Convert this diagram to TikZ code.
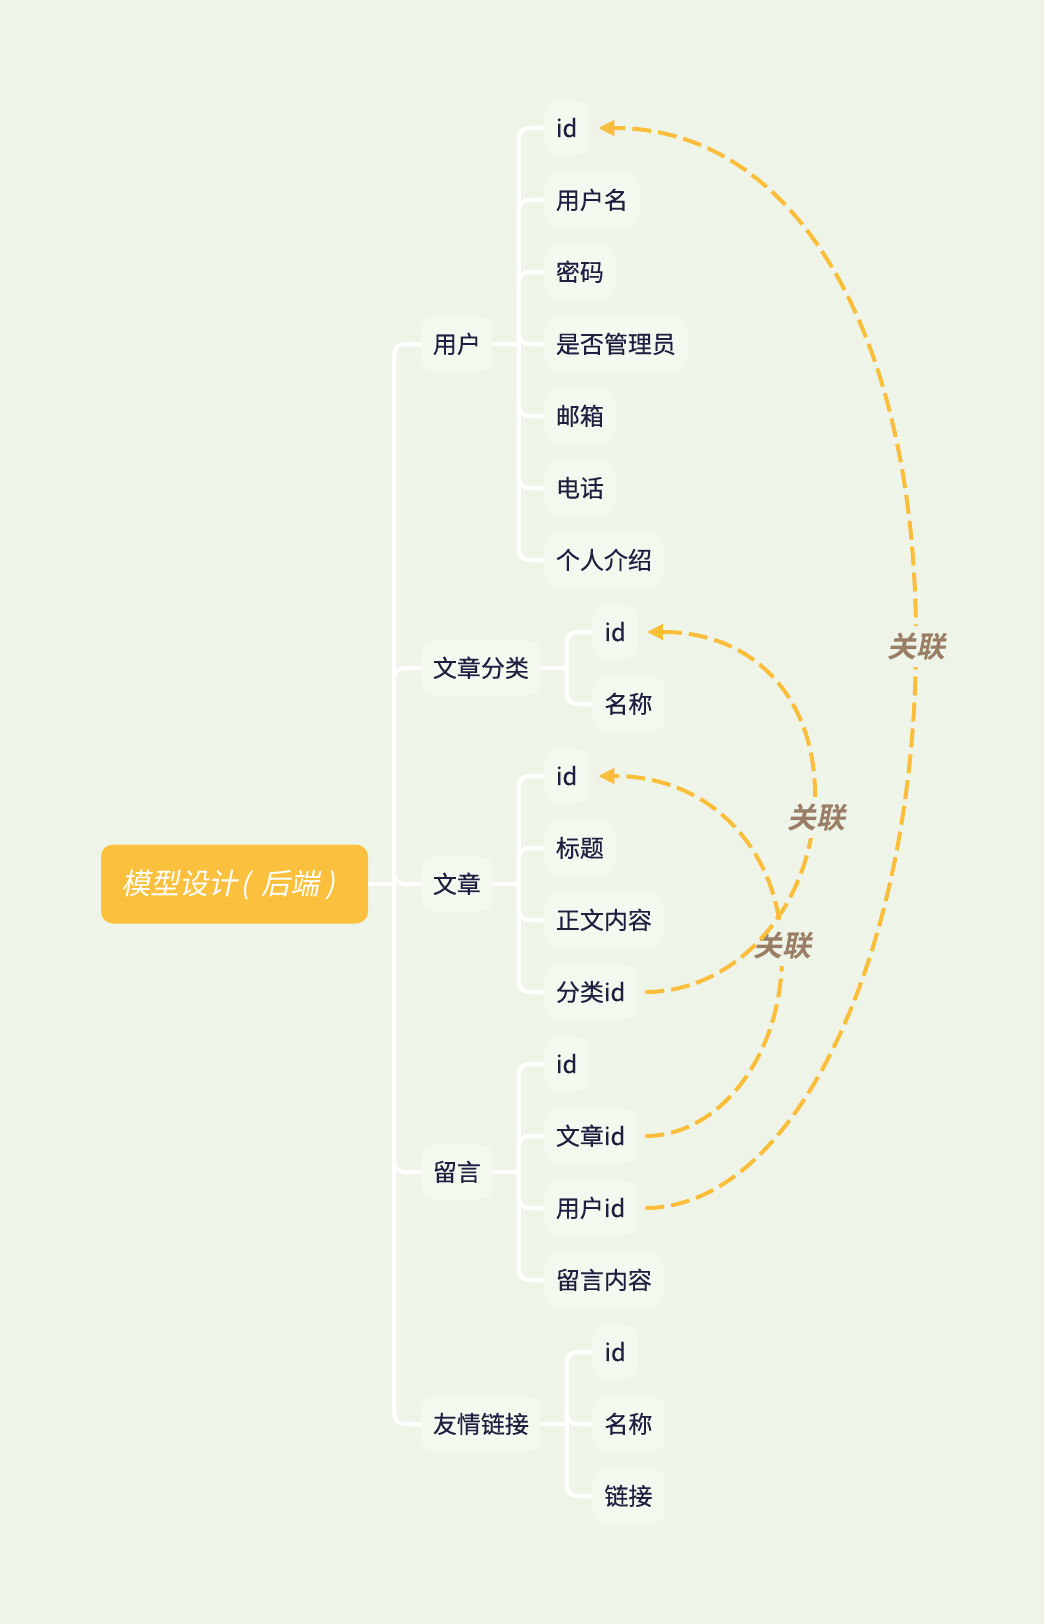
\documentclass[tikz,border=0pt]{standalone}
\usepackage{fontspec}
\setmainfont{Noto Sans CJK SC}[FakeBold=0.3]
\newfontfamily\rootfont[FakeSlant=0.2]{Noto Sans CJK SC}
\newfontfamily\lblfont[FakeSlant=0.2]{Noto Sans CJK SC Bold}
\usetikzlibrary{arrows.meta}
\definecolor{bgc}{HTML}{EEF5E8}
\definecolor{nodec}{HTML}{F4F9F0}
\definecolor{txtc}{HTML}{1F1F40}
\definecolor{rootc}{HTML}{FBC13E}
\definecolor{arrc}{HTML}{FBBD3A}
\definecolor{lblc}{HTML}{9A7D65}
\tikzset{
  leaf/.style={fill=nodec, rounded corners=12pt, minimum height=55pt, inner xsep=11.7pt, inner ysep=0pt,
    text height=20pt, text depth=2pt, font=\fontsize{24}{28}\selectfont, text=txtc, anchor=west},
  rootbox/.style={fill=rootc, rounded corners=12pt, minimum width=267pt, minimum height=79pt, inner sep=0pt,
    text height=23pt, text depth=2pt, font=\rootfont\fontsize{29}{33}\selectfont, text=white},
  branch/.style={draw=white, line width=4pt, rounded corners=10pt},
  rel/.style={draw=arrc, line width=4pt, dash pattern=on 19pt off 7pt, -{Triangle[length=16pt,width=15pt]}},
  lbl/.style={fill=bgc, inner xsep=3pt, inner ysep=8pt, text height=23pt, text depth=2pt,
    font=\lblfont\fontsize{29}{32}\selectfont, text=lblc}
}
\begin{document}
\begin{tikzpicture}[x=1pt, y=-1pt]
\fill[bgc] (0,0) rectangle (1044,1624);
\useasboundingbox (0,0) rectangle (1044,1624);

\node[rootbox] (root) at (234.5,884) {模型设计\kern3pt(\kern11pt后端\kern6pt)\kern12pt};

\node[leaf] (u) at (421,344) {用户};
\node[leaf] (uc0) at (544,128) {id};
\node[leaf] (uc1) at (544,200) {用户名};
\node[leaf] (uc2) at (544,272) {密码};
\node[leaf] (uc3) at (544,344) {是否管理员};
\node[leaf] (uc4) at (544,416) {邮箱};
\node[leaf] (uc5) at (544,488) {电话};
\node[leaf] (uc6) at (544,560) {个人介绍};

\node[leaf] (c) at (421,668) {文章分类};
\node[leaf] (cc0) at (592.5,632) {id};
\node[leaf] (cc1) at (592.5,704) {名称};

\node[leaf] (a) at (421,884) {文章};
\node[leaf] (ac0) at (544,776) {id};
\node[leaf] (ac1) at (544,848) {标题};
\node[leaf] (ac2) at (544,920) {正文内容};
\node[leaf] (ac3) at (544,992) {分类id};

\node[leaf] (m) at (421,1172) {留言};
\node[leaf] (mc0) at (544,1064) {id};
\node[leaf] (mc1) at (544,1136) {文章id};
\node[leaf] (mc2) at (544,1208) {用户id};
\node[leaf] (mc3) at (544,1280) {留言内容};

\node[leaf] (f) at (421,1424) {友情链接};
\node[leaf] (fc0) at (592.5,1352) {id};
\node[leaf] (fc1) at (592.5,1424) {名称};
\node[leaf] (fc2) at (592.5,1496) {链接};

% branches
\draw[branch] (root.east) -- ++(26,0) coordinate (rj);
\foreach \n in {u,c,a,m,f} \draw[branch] (rj) |- (\n.west);
\draw[branch] (u.east) -- ++(26,0) coordinate (uj);
\foreach \n in {uc0,uc1,uc2,uc3,uc4,uc5,uc6} \draw[branch] (uj) |- (\n.west);
\draw[branch] (c.east) -- ++(26,0) coordinate (cj);
\foreach \n in {cc0,cc1} \draw[branch] (cj) |- (\n.west);
\draw[branch] (a.east) -- ++(26,0) coordinate (aj);
\foreach \n in {ac0,ac1,ac2,ac3} \draw[branch] (aj) |- (\n.west);
\draw[branch] (m.east) -- ++(26,0) coordinate (mj);
\foreach \n in {mc0,mc1,mc2,mc3} \draw[branch] (mj) |- (\n.west);
\draw[branch] (f.east) -- ++(26,0) coordinate (fj);
\foreach \n in {fc0,fc1,fc2} \draw[branch] (fj) |- (\n.west);

% relation 1: 用户id -> 用户 id
\coordinate (m1) at (916,640);
\draw[rel] ([xshift=8pt]mc2.east) .. controls (794,1208) and (916,954) .. (m1)
  .. controls (916,333) and (795,128) .. ([xshift=25pt]uc0.east) -- ([xshift=9pt]uc0.east);
\node[lbl] (l1) at (916.5,646.5) {关联};

% relation 2: 文章id -> 文章 id
\coordinate (m2) at (782,955);
\draw[rel] ([xshift=8pt]mc1.east) .. controls (720,1136) and (782,1055) .. (m2)
  .. controls (782,851) and (711,776) .. ([xshift=25pt]ac0.east) -- ([xshift=9pt]ac0.east);
\node[lbl] (l2) at (782,945.5) {关联};

% relation 3: 分类id -> 文章分类 id
\coordinate (m3) at (815,795);
\draw[rel] ([xshift=8pt]ac3.east) .. controls (738,992) and (815,904) .. (m3)
  .. controls (815,697) and (753,632) .. ([xshift=25pt]cc0.east) -- ([xshift=9pt]cc0.east);
\node[lbl] (l3) at (816.5,817.5) {关联};
\end{tikzpicture}
\end{document}
